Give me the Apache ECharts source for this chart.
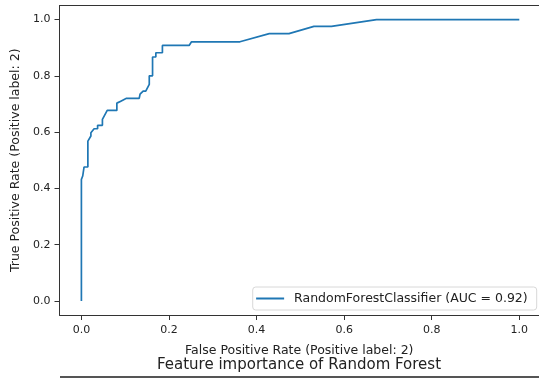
<!DOCTYPE html>
<html>
<head>
<meta charset="utf-8">
<script src="https://cdn.jsdelivr.net/npm/echarts@6/dist/echarts.min.js"></script>
<style>
html,body{margin:0;padding:0;background:#fff;}
#chart{width:539px;height:379px;}
</style>
</head>
<body>
<div id="chart"></div>
<script>
const seriesName = 'RandomForestClassifier (AUC = 0.92)';
const fpr = [0, 0, 0.003, 0.006, 0.006, 0.0148, 0.0148, 0.0217, 0.0217, 0.029, 0.037, 0.037, 0.048, 0.048, 0.059, 0.081, 0.081, 0.090, 0.103, 0.132, 0.134, 0.141, 0.147, 0.155, 0.155, 0.1625, 0.1625, 0.170, 0.170, 0.185, 0.185, 0.246, 0.2515, 0.362, 0.429, 0.474, 0.531, 0.571, 0.674, 1.0];
const tpr = [0, 0.432, 0.444, 0.450, 0.476, 0.476, 0.568, 0.586, 0.598, 0.612, 0.612, 0.624, 0.624, 0.645, 0.677, 0.677, 0.703, 0.710, 0.720, 0.720, 0.735, 0.746, 0.746, 0.770, 0.800, 0.800, 0.867, 0.867, 0.882, 0.882, 0.908, 0.908, 0.921, 0.921, 0.950, 0.950, 0.976, 0.976, 1.0, 1.0];
const xTicks = [0, 0.2, 0.4, 0.6, 0.8, 1.0];
const yTicks = [0, 0.2, 0.4, 0.6, 0.8, 1.0];
const xLabel = 'False Positive Rate (Positive label: 2)';
const yLabel = 'True Positive Rate (Positive label: 2)';
const titleText = 'Feature importance of Random Forest';

const font = 'DejaVu Sans';
const points = fpr.map((x, i) => [x, tpr[i]]);
const chart = echarts.init(document.getElementById('chart'));
const spine = { show: true, onZero: false, lineStyle: { color: '#333', width: 1 } };
chart.setOption({
  animation: false,
  backgroundColor: '#fff',
  title: {
    text: titleText, left: 157, top: 358, padding: 0,
    textStyle: { fontFamily: font, fontSize: 15, fontWeight: 'normal', color: '#222' }
  },
  grid: { left: 59.5, top: 5.5, right: 0, bottom: 64, show: false },
  xAxis: [{
    type: 'value', min: -0.05, max: 1.045,
    axisLine: spine, splitLine: { show: false },
    name: xLabel, nameLocation: 'middle', nameGap: 29,
    nameTextStyle: { fontFamily: font, fontSize: 12.5, color: '#222' },
    axisTick: { show: true, length: 5, lineStyle: { color: '#333' }, customValues: xTicks },
    axisLabel: { customValues: xTicks, formatter: v => v.toFixed(1), fontFamily: font, fontSize: 11, color: '#222', margin: 10 }
  }, {
    type: 'value', min: -0.05, max: 1.045, position: 'top',
    axisLine: spine, splitLine: { show: false }, axisTick: { show: false }, axisLabel: { show: false }
  }],
  yAxis: [{
    type: 'value', min: -0.05, max: 1.05,
    axisLine: spine, splitLine: { show: false },
    name: yLabel, nameLocation: 'middle', nameGap: 27,
    nameTextStyle: { fontFamily: font, fontSize: 12.5, color: '#222' },
    axisTick: { show: true, length: 5, lineStyle: { color: '#333' }, customValues: yTicks },
    axisLabel: { customValues: yTicks, formatter: v => v.toFixed(1), fontFamily: font, fontSize: 11, color: '#222', margin: 9 }
  }],
  legend: {
    right: 2.3, bottom: 69, orient: 'vertical',
    backgroundColor: '#fff', borderColor: '#d8d8d8', borderWidth: 1, borderRadius: 3,
    padding: [5, 9, 5, 3.4], itemWidth: 28, itemHeight: 2, itemGap: 0,
    icon: 'rect',
    textStyle: { fontFamily: font, fontSize: 12.5, color: '#222', padding: [0, 0, 0, 5] },
    data: [seriesName]
  },
  series: [{
    name: seriesName, type: 'line', data: points, showSymbol: false,
    xAxisIndex: 0, yAxisIndex: 0,
    lineStyle: { color: '#1f77b4', width: 1.7 }, itemStyle: { color: '#1f77b4' }
  }],
  graphic: [{
    type: 'line', shape: { x1: 60, y1: 377, x2: 539, y2: 377 },
    style: { stroke: '#555', lineWidth: 2 }
  }]
});
</script>
</body>
</html>
